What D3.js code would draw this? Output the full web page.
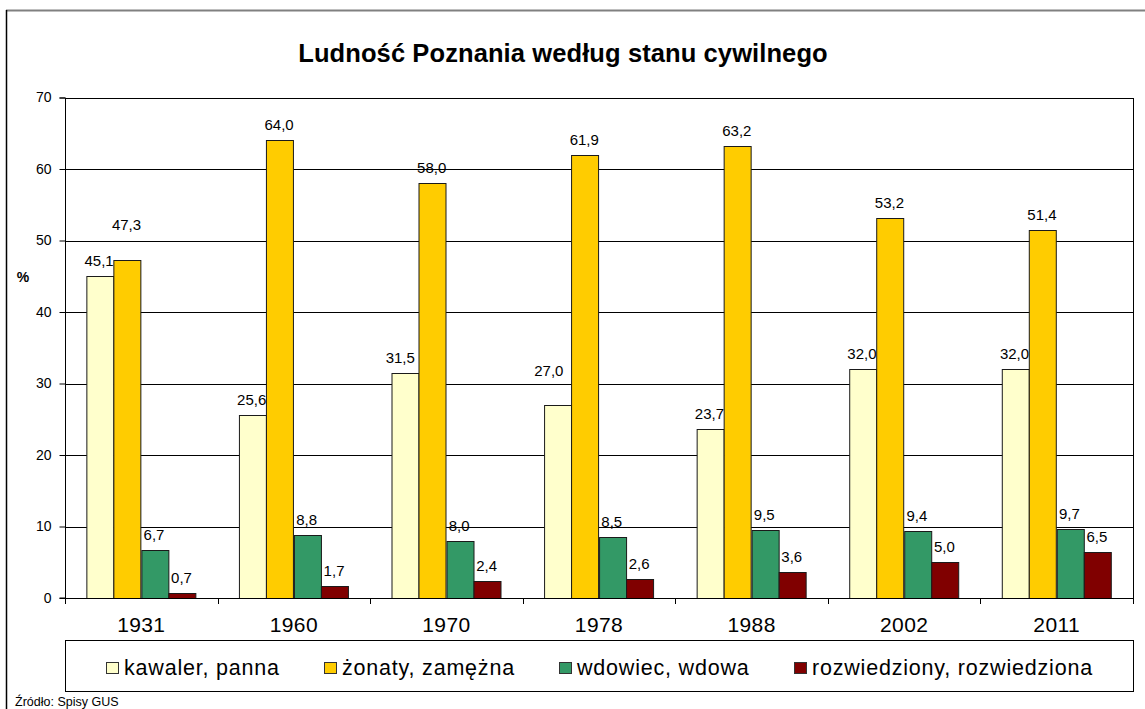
<!DOCTYPE html>
<html><head><meta charset="utf-8">
<script src="https://cdn.jsdelivr.net/npm/d3@7"></script>
<style>
html,body{margin:0;padding:0;background:#fff;}
svg{display:block;font-family:"Liberation Sans",Arial,sans-serif;}
</style></head>
<body>
<svg id="chart" width="1145" height="709"></svg>
<script>
const years = ["1931","1960","1970","1978","1988","2002","2011"];
const seriesNames = ["kawaler, panna","żonaty, zamężna","wdowiec, wdowa","rozwiedziony, rozwiedziona"];
const kawaler = [45.1,25.6,31.5,27.0,23.7,32.0,32.0];
const zonaty = [47.3,64.0,58.0,61.9,63.2,53.2,51.4];
const wdowiec = [6.7,8.8,8.0,8.5,9.5,9.4,9.7];
const rozwiedzony = [0.7,1.7,2.4,2.6,3.6,5.0,6.5];
const yTicks = [0,10,20,30,40,50,60,70];
const colors = ["#FFFFCC","#FFCC00","#339966","#800000"];
const titleText = "Ludność Poznania według stanu cywilnego";
const sourceText = "Źródło: Spisy GUS";

const series = [kawaler, zonaty, wdowiec, rozwiedzony];
const svg = d3.select("#chart");

// outer frame (partial, as in reference)
svg.append("line").attr("x1",6).attr("x2",1145).attr("y1",10.5).attr("y2",10.5).attr("stroke","#808080").attr("stroke-width",2);
svg.append("line").attr("x1",6.5).attr("x2",6.5).attr("y1",10).attr("y2",709).attr("stroke","#000").attr("stroke-width",1.5);

const L = 65, R = 1133, T = 97.5, B = 598;
const x0 = d3.scaleBand().domain(years).range([L, R]).paddingInner(0.28).paddingOuter(0.14);
const x1 = d3.scaleBand().domain(d3.range(series.length)).range([0, x0.bandwidth()]).padding(0);
const y = d3.scaleLinear().domain([0, 70]).range([B, T]);

// title
svg.append("text").attr("x", 563).attr("y", 62).attr("text-anchor","middle")
  .attr("font-size", 25.5).attr("font-weight","bold").attr("fill","#000").attr("letter-spacing", 0.1).text(titleText);

// gridlines
svg.append("g").selectAll("line").data(yTicks.filter(d=>d>0)).join("line")
  .attr("x1", L).attr("x2", R).attr("y1", d=>Math.round(y(d))+0.5).attr("y2", d=>Math.round(y(d))+0.5)
  .attr("stroke","#000").attr("stroke-width",1);
// right border
svg.append("line").attr("x1", R+0.5).attr("x2", R+0.5).attr("y1", Math.round(T)).attr("y2", B+6).attr("stroke","#000");

// y axis
const yAxis = svg.append("g").attr("transform", `translate(${L+0.5},0)`)
  .call(d3.axisLeft(y).tickValues(yTicks).tickSize(6).tickPadding(8).tickFormat(d3.format("d")));
yAxis.selectAll("text").attr("font-size", 14).attr("font-family","Liberation Sans, Arial, sans-serif").attr("fill","#000");
yAxis.selectAll("line,path").attr("stroke","#000");
yAxis.select("path").attr("d", `M-6,${Math.round(T)}H0V${B}H-6`);

svg.append("text").attr("x", 23).attr("y", 282).attr("text-anchor","middle")
  .attr("font-size", 14).attr("font-weight","bold").text("%");

// bars
const fmt = v => d3.format(".1f")(v).replace(".", ",");
const nudge = {"1931|1": [0, -20], "1978|0": [-8, -19], "1970|0": [-4, 0]};
const groups = svg.append("g").selectAll("g").data(years).join("g")
  .attr("transform", d => `translate(${x0(d)},0)`);
groups.each(function(yr, i) {
  const g = d3.select(this);
  series.forEach((arr, s) => {
    const v = arr[i];
    g.append("rect").attr("x", Math.round(x1(s))+0.5).attr("y", Math.round(y(v))+0.5)
      .attr("width", Math.round(x1.bandwidth())).attr("height", Math.max(0, Math.round(B - y(v))))
      .attr("fill", colors[s]).attr("stroke", "#1a1a1a").attr("stroke-width", 1);
    const nd = nudge[yr + "|" + s] || [0, 0];
    g.append("text").attr("x", x1(s) + x1.bandwidth()/2 - 1 + nd[0]).attr("y", y(v) - 10 + nd[1])
      .attr("text-anchor","middle").attr("font-size", 15).attr("fill","#000").text(fmt(v));
  });
});

// x axis
svg.append("line").attr("x1", L).attr("x2", R).attr("y1", B+0.5).attr("y2", B+0.5).attr("stroke","#000");
const bounds = years.map(d => x0(d) - x0.step()*x0.paddingOuter()).concat([R]);
svg.append("g").selectAll("line").data(bounds).join("line")
  .attr("x1", d=>Math.round(d)+0.5).attr("x2", d=>Math.round(d)+0.5).attr("y1", B).attr("y2", B+6).attr("stroke","#000");
const xAxis = svg.append("g").attr("transform", `translate(0,${B})`)
  .call(d3.axisBottom(x0).tickSize(0).tickPadding(19));
xAxis.select("path").remove();
xAxis.selectAll("text").attr("font-size", 21).attr("letter-spacing", 0.4).attr("font-family","Liberation Sans, Arial, sans-serif").attr("fill","#000");

// legend
svg.append("rect").attr("x", L+0.5).attr("y", 640.5).attr("width", 1134-L-1).attr("height", 51)
  .attr("fill","#fff").attr("stroke","#000").attr("stroke-width",1);
const lg = svg.append("g");
const items = lg.selectAll("g").data(seriesNames).join("g");
items.append("rect").attr("x",0.5).attr("y",662.5).attr("width",12).attr("height",11)
  .attr("fill",(d,i)=>colors[i]).attr("stroke","#333");
items.append("text").attr("x",18).attr("y",675).attr("font-size",21.5).attr("letter-spacing",0.8).attr("fill","#000").text(d=>d);
let widths = [];
items.each(function(){ widths.push(18 + d3.select(this).select("text").node().getComputedTextLength()); });
const gap = 44;
const total = d3.sum(widths) + gap*(widths.length-1);
let cx = (L + 1134)/2 - total/2;
items.each(function(d,i){ d3.select(this).attr("transform", `translate(${Math.round(cx)},0)`); cx += widths[i] + gap; });

// source
svg.append("text").attr("x", 15).attr("y", 706).attr("font-size", 12.5).attr("fill","#000").text(sourceText);
</script>
</body></html>
